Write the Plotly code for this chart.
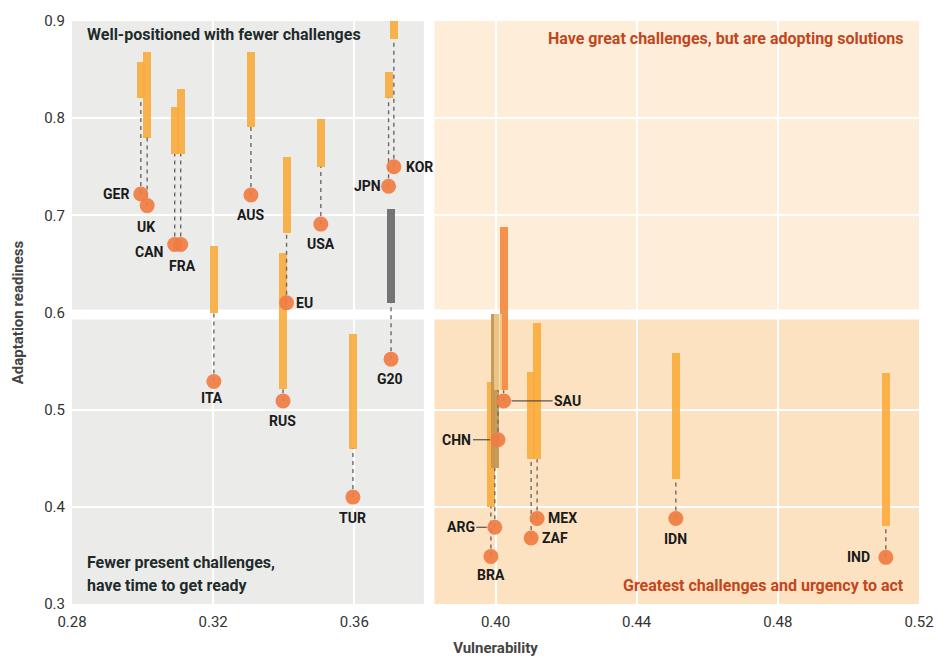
import plotly.graph_objects as go

# ---------------- data ----------------
countries = ["GER", "UK", "CAN", "FRA", "AUS", "ITA", "EU", "RUS", "USA", "TUR",
             "JPN", "KOR", "G20", "SAU", "BRA", "ARG", "CHN", "ZAF", "MEX", "IDN", "IND"]
vulnerability = [0.2995, 0.3013, 0.3091, 0.3108, 0.3307, 0.3202, 0.3408, 0.3398, 0.3505, 0.3596,
                 0.3697, 0.3712, 0.3704, 0.4023, 0.3987, 0.3998, 0.4007, 0.4101, 0.4118, 0.4511, 0.5106]
readiness = [0.722, 0.710, 0.670, 0.670, 0.721, 0.529, 0.610, 0.509, 0.691, 0.410,
             0.730, 0.750, 0.552, 0.509, 0.349, 0.379, 0.469, 0.368, 0.388, 0.388, 0.348]
range_low = [0.821, 0.780, 0.763, 0.763, 0.791, 0.600, 0.682, 0.521, 0.750, 0.460,
             0.821, 0.881, 0.610, 0.520, 0.400, 0.440, 0.520, 0.449, 0.449, 0.429, 0.380]
range_high = [0.858, 0.868, 0.812, 0.830, 0.868, 0.668, 0.760, 0.661, 0.799, 0.578,
              0.848, 0.910, 0.707, 0.688, 0.528, 0.598, 0.598, 0.539, 0.589, 0.558, 0.538]

x_ticks = [0.28, 0.32, 0.36, 0.40, 0.44, 0.48, 0.52]
y_ticks = [0.3, 0.4, 0.5, 0.6, 0.7, 0.8, 0.9]

# ---------------- styles ----------------
BAR = "rgba(249,170,55,0.88)"
bar_colors = {"G20": "rgba(110,110,110,0.95)", "SAU": "rgba(243,140,70,0.95)",
              "ARG": "rgba(196,150,80,0.95)", "CHN": "rgba(247,222,160,0.65)"}
colors = [bar_colors.get(c, BAR) for c in countries]

# label placement: (dx, dy) in pixels (dy positive = up); leader labels use ax offset
label_pos = {"GER": (-25, 0), "UK": (-1, -21), "CAN": (-26, -8), "FRA": (2, -22), "AUS": (0, -20),
             "ITA": (-2, -17), "EU": (18, 0), "RUS": (-1, -20), "USA": (0, -20), "TUR": (0, -21),
             "JPN": (-21, 0), "KOR": (26, 0), "G20": (-1, -20), "BRA": (0, -19), "ZAF": (24, 0),
             "MEX": (25, 0), "IDN": (0, -21), "IND": (-27, 0)}
leader_pos = {"SAU": 64, "ARG": -34, "CHN": -41}

FONT = "Roboto"
fig = go.Figure()

# quadrant backgrounds
XS_L, XS_R = 0.3797, 0.3827
YS_B, YS_T = 0.5928, 0.6031
quads = [(0.28, XS_L, YS_T, 0.9, "#EBEBEA"), (0.28, XS_L, 0.3, YS_B, "#EBEBEA"),
         (XS_R, 0.52, YS_T, 0.9, "#FDEDD9"), (XS_R, 0.52, 0.3, YS_B, "#FCE2C0")]
for x0, x1, y0, y1, col in quads:
    fig.add_shape(type="rect", xref="x", yref="y", x0=x0, x1=x1, y0=y0, y1=y1,
                  fillcolor=col, line_width=0, layer="below")

# dashed connectors
dx_, dy_ = [], []
for v, r, lo in zip(vulnerability, readiness, range_low):
    dx_ += [v, v, None]
    dy_ += [r, lo, None]
fig.add_trace(go.Scatter(x=dx_, y=dy_, mode="lines", hoverinfo="skip",
                         line=dict(color="#6a6a6a", width=1.4, dash="4px,4px")))

# range bars
fig.add_trace(go.Bar(x=vulnerability, y=[h - l for h, l in zip(range_high, range_low)],
                     base=range_low, width=0.0023, marker=dict(color=colors, line_width=0)))

# points
fig.add_trace(go.Scatter(x=vulnerability, y=readiness, mode="markers",
                         marker=dict(size=15, color="rgba(240,124,66,0.92)", line_width=0),
                         cliponaxis=False))

lab_font = dict(family=FONT, size=14, color="#1a1a1a", weight="bold")
for c, v, r in zip(countries, vulnerability, readiness):
    if c in leader_pos:
        fig.add_annotation(x=v, y=r, text=c, showarrow=True, ax=leader_pos[c], ay=0,
                           arrowhead=0, arrowwidth=1, arrowcolor="#333333", standoff=8,
                           font=lab_font)
    else:
        ddx, ddy = label_pos[c]
        fig.add_annotation(x=v, y=r, text=c, showarrow=False, xshift=ddx, yshift=ddy,
                           font=lab_font)

dark = "#1E2B2B"
rust = "#C2461E"
qfont = lambda col: dict(family=FONT, size=16, color=col, weight="bold")
fig.add_annotation(x=0.2837, y=0.8856, text="Well-positioned with fewer challenges",
                   showarrow=False, xanchor="left", font=qfont(dark))
fig.add_annotation(x=0.5163, y=0.8815, text="Have great challenges, but are adopting solutions",
                   showarrow=False, xanchor="right", font=qfont(rust))
fig.add_annotation(x=0.2837, y=0.3432, text="Fewer present challenges,",
                   showarrow=False, xanchor="left", font=qfont(dark))
fig.add_annotation(x=0.2837, y=0.3195, text="have time to get ready",
                   showarrow=False, xanchor="left", font=qfont(dark))
fig.add_annotation(x=0.5163, y=0.3195, text="Greatest challenges and urgency to act",
                   showarrow=False, xanchor="right", font=qfont(rust))

fig.update_layout(
    width=949, height=659, margin=dict(l=64, r=38, t=13, b=63),
    plot_bgcolor="white", paper_bgcolor="white", showlegend=False,
    barmode="overlay", bargap=0,
    xaxis=dict(range=[0.28, 0.52], tickvals=x_ticks, ticktext=[f"{t:.2f}" for t in x_ticks],
               showgrid=True, gridcolor="white", gridwidth=2, zeroline=False, showline=False,
               automargin=False, ticklabelstandoff=7,
               tickfont=dict(family=FONT, size=15, color="#333333"),
               title=dict(text="Vulnerability", standoff=12,
                          font=dict(family=FONT, size=15, color="#444444", weight="bold"))),
    yaxis=dict(range=[0.3, 0.9], tickvals=y_ticks, ticktext=[f"{t:.1f}" for t in y_ticks],
               showgrid=True, gridcolor="white", gridwidth=2, zeroline=False, showline=False,
               automargin=False, ticklabelstandoff=6,
               tickfont=dict(family=FONT, size=15, color="#333333"),
               title=dict(text="Adaptation readiness", standoff=16,
                          font=dict(family=FONT, size=15, color="#444444", weight="bold"))),
)

fig.write_html("out.html")
